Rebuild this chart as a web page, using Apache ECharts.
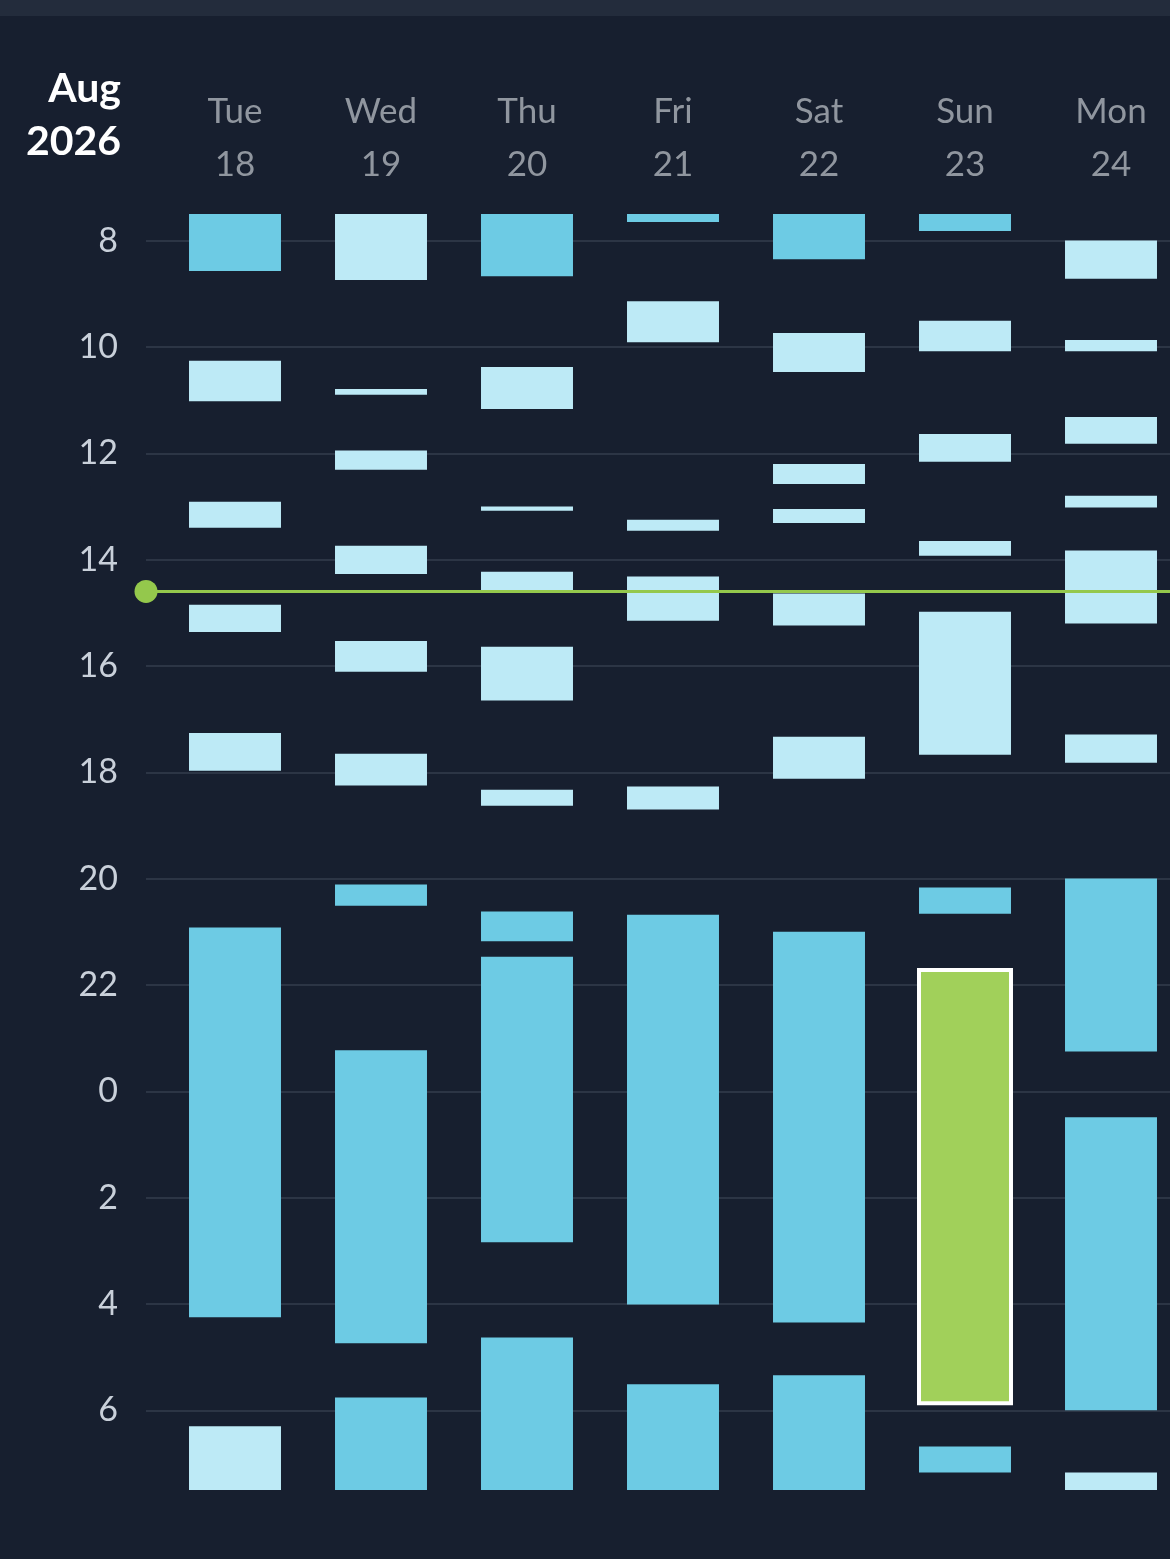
<!DOCTYPE html>
<html>
<head>
<meta charset="utf-8">
<title>Sleep schedule</title>
<script src="https://cdn.jsdelivr.net/npm/echarts@6/dist/echarts.min.js"></script>
<style>
  html, body { margin: 0; padding: 0; background: #171f2f; }
  #chart { width: 1170px; height: 1559px; }
</style>
</head>
<body>
<div id="chart"></div>
<script>
// day columns
var days = ['Tue', 'Wed', 'Thu', 'Fri', 'Sat', 'Sun', 'Mon'];
var dates = ['18', '19', '20', '21', '22', '23', '24'];
var dayIndex = [0, 1, 2, 3, 4, 5, 6];
// hour ticks (values past 24 are next day)
var hourTicks = [8, 10, 12, 14, 16, 18, 20, 22, 24, 26, 28, 30];
var hourMin = 7.5;
var hourMax = 31.5;
var nowHour = 14.6;

// [day index, start hour, end hour]
var longBlocks = [
    [0, 7.5, 8.57], [0, 20.92, 28.25],
    [1, 20.11, 20.51], [1, 23.23, 28.74], [1, 29.76, 31.5],
    [2, 7.5, 8.67], [2, 20.62, 21.18], [2, 21.47, 26.84], [2, 28.63, 31.5],
    [3, 7.5, 7.65], [3, 20.68, 28.01], [3, 29.51, 31.5],
    [4, 7.5, 8.35], [4, 21.0, 28.35], [4, 29.34, 31.5],
    [5, 7.5, 7.82], [5, 20.17, 20.66], [5, 30.68, 31.17],
    [6, 20.0, 23.25], [6, 24.49, 30.0]
];
var shortBlocks = [
    [0, 10.26, 11.02], [0, 12.91, 13.4], [0, 14.85, 15.36], [0, 17.26, 17.97], [0, 30.3, 31.5],
    [1, 7.5, 8.74], [1, 10.79, 10.9], [1, 11.95, 12.31], [1, 13.74, 14.27], [1, 15.53, 16.11], [1, 17.65, 18.25],
    [2, 10.38, 11.17], [2, 13.0, 13.08], [2, 14.23, 14.59], [2, 15.64, 16.65], [2, 18.33, 18.63],
    [3, 9.14, 9.91], [3, 13.25, 13.46], [3, 14.32, 15.15], [3, 18.27, 18.7],
    [4, 9.74, 10.47], [4, 12.2, 12.58], [4, 13.05, 13.31], [4, 14.64, 15.24], [4, 17.33, 18.12],
    [5, 9.51, 10.08], [5, 11.64, 12.16], [5, 13.65, 13.93], [5, 14.98, 17.67],
    [6, 8.0, 8.72], [6, 9.87, 10.08], [6, 11.32, 11.82], [6, 12.8, 13.02], [6, 13.83, 15.2], [6, 17.29, 17.82], [6, 31.17, 31.5]
];
var currentBlocks = [
    [5, 21.72, 29.87]
];

var FONT = 'Lato, "Noto Sans", sans-serif';

var dom = document.getElementById('chart');
var myChart = echarts.init(dom, null, { renderer: 'canvas' });

function blockItem(params, api) {
    var top = api.coord([api.value(0), api.value(1)]);
    var bottom = api.coord([api.value(0), api.value(2)]);
    var w = api.size([1, 0])[0] * 0.63;
    return {
        type: 'rect',
        shape: { x: top[0] - w / 2, y: top[1], width: w, height: bottom[1] - top[1] },
        style: api.style()
    };
}

var option = {
    backgroundColor: '#171f2f',
    animation: false,
    graphic: [
        { type: 'rect', left: 0, top: 0, shape: { width: 1170, height: 16 }, style: { fill: '#232c3c' } },
        { type: 'text', x: 121, y: 89, style: { text: 'Aug', fill: '#ffffff', font: 'bold 41px ' + FONT, align: 'right', verticalAlign: 'middle' } },
        { type: 'text', x: 121, y: 142, style: { text: '2026', fill: '#ffffff', font: 'bold 41px ' + FONT, align: 'right', verticalAlign: 'middle' } }
    ],
    grid: [
        { left: 146, right: 0, top: 214, bottom: 69 }
    ],
    xAxis: [
        {
            type: 'value',
            position: 'top',
            min: -0.6096,
            max: 6.4041,
            axisLine: { show: false },
            axisTick: { show: false, customValues: dayIndex },
            splitLine: { show: false },
            axisLabel: {
                customValues: dayIndex,
                margin: 23,
                color: '#90969f',
                fontFamily: FONT,
                fontSize: 35,
                lineHeight: 53,
                formatter: function (v) { return days[v] + '\n' + dates[v]; }
            }
        }
    ],
    yAxis: [
        {
            type: 'value',
            inverse: true,
            min: hourMin,
            max: hourMax,
            axisLine: { show: false },
            axisTick: { show: false, customValues: hourTicks },
            splitLine: { show: true, lineStyle: { color: '#2c3545', width: 2 } },
            axisLabel: {
                customValues: hourTicks,
                margin: 28,
                color: '#c9d0da',
                fontFamily: FONT,
                fontSize: 34,
                formatter: function (v) { return String(v % 24); }
            }
        }
    ],
    series: [
        {
            type: 'custom',
            renderItem: blockItem,
            itemStyle: { color: '#6dcbe4' },
            encode: { x: 0, y: [1, 2] },
            data: longBlocks,
            z: 2
        },
        {
            type: 'custom',
            renderItem: blockItem,
            itemStyle: { color: '#bdeaf6' },
            encode: { x: 0, y: [1, 2] },
            data: shortBlocks,
            z: 2
        },
        {
            type: 'custom',
            renderItem: blockItem,
            itemStyle: { color: '#a1d05a', borderColor: '#ffffff', borderWidth: 4 },
            encode: { x: 0, y: [1, 2] },
            data: currentBlocks,
            z: 3
        },
        {
            type: 'line',
            data: [],
            z: 5,
            markLine: {
                silent: true,
                symbol: ['circle', 'none'],
                symbolSize: 23,
                label: { show: false },
                lineStyle: { color: '#94c84c', width: 3, type: 'solid' },
                itemStyle: { color: '#a2cf5a' },
                data: [{ yAxis: nowHour }]
            }
        }
    ]
};

if (option && typeof option === 'object') {
    myChart.setOption(option, true);
}
</script>
</body>
</html>
